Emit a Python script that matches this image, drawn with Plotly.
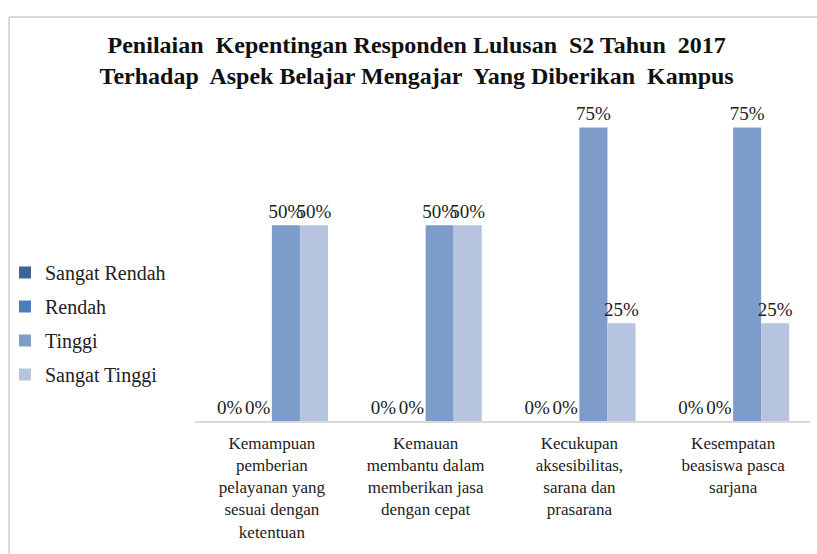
import plotly.graph_objects as go

categories = [
    "Kemampuan<br>pemberian<br>pelayanan yang<br>sesuai dengan<br>ketentuan",
    "Kemauan<br>membantu dalam<br>memberikan jasa<br>dengan cepat",
    "Kecukupan<br>aksesibilitas,<br>sarana dan<br>prasarana",
    "Kesempatan<br>beasiswa pasca<br>sarjana",
]
series_names = ["Sangat Rendah", "Rendah", "Tinggi", "Sangat Tinggi"]
sangat_rendah = [0.0, 0.0, 0.0, 0.0]
rendah = [0.0, 0.0, 0.0, 0.0]
tinggi = [0.50, 0.50, 0.75, 0.75]
sangat_tinggi = [0.50, 0.50, 0.25, 0.25]
colors = ["#3f6597", "#4a7ebb", "#7e9cc9", "#b6c4df"]

FONT = "Times New Roman, Liberation Serif, serif"
fig = go.Figure()
for i, (name, vals) in enumerate(zip(series_names, [sangat_rendah, rendah, tinggi, sangat_tinggi])):
    fig.add_trace(go.Bar(
        x=categories, y=vals, name=name, marker_color=colors[i],
        marker_line_width=0,
        text=[f"{v*100:.0f}%" for v in vals], textposition="outside",
        textfont=dict(family=FONT, size=19, color="#222"),
        constraintext="none",
        cliponaxis=False, legendgroup=f"g{i}",
    ))

W, H = 817, 554
ml, mr, mt, mb = 195, 7, 100, 133
pw = W - ml - mr
ph = H - mt - mb

fig.update_layout(
    width=W, height=H,
    margin=dict(l=ml, r=mr, t=mt, b=mb, autoexpand=False),
    paper_bgcolor="white", plot_bgcolor="white",
    barmode="group", bargap=0.27, bargroupgap=0,
    title=dict(
        text="<b>Penilaian  Kepentingan Responden Lulusan  S2 Tahun  2017<br>Terhadap  Aspek Belajar Mengajar  Yang Diberikan  Kampus</b>",
        x=0.510, xanchor="center", y=0.904, yanchor="top",
        font=dict(family=FONT, size=24, color="#111"),
    ),
    font=dict(family=FONT, color="#222"),
    showlegend=True,
    legend=dict(
        xref="container", yref="container",
        x=5 / W, xanchor="left", y=1 - 253 / H, yanchor="top",
        bgcolor="rgba(0,0,0,0)",
        font=dict(family=FONT, size=20, color="#222"),
        traceorder="grouped", tracegroupgap=5,
        itemwidth=30,
    ),
    xaxis=dict(
        showline=True, linecolor="#d9d9d9", linewidth=1.5,
        ticks="", tickfont=dict(family=FONT, size=17, color="#222"),
        showgrid=False, automargin=False, ticklabelstandoff=6,
    ),
    yaxis=dict(
        range=[0, 0.82], visible=False, showgrid=False,
    ),
    shapes=[
        dict(type="line", xref="paper", yref="paper",
             x0=(9 - ml) / pw, x1=(830 - ml) / pw,
             y0=(H - mb - 17) / ph, y1=(H - mb - 17) / ph,
             line=dict(color="#d9d9d9", width=2)),
        dict(type="line", xref="paper", yref="paper",
             x0=(9 - ml) / pw, x1=(9 - ml) / pw,
             y0=(H - mb - 17) / ph, y1=(H - mb - 570) / ph,
             line=dict(color="#d9d9d9", width=2)),
    ],
)

fig.write_html("out.html", config={"displayModeBar": False},
               post_script="document.body.style.margin='0';")
